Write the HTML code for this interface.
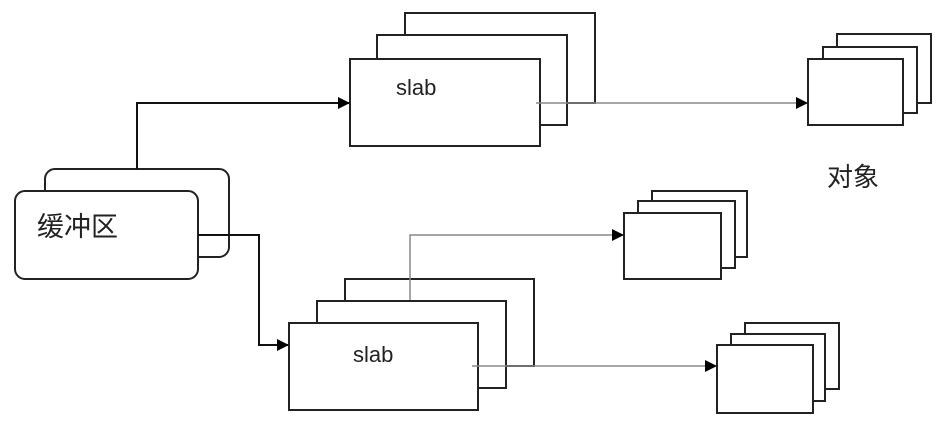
<!DOCTYPE html>
<html><head><meta charset="utf-8"><style>
html,body{margin:0;padding:0;background:#fff;}
svg{display:block}
text{font-family:"Liberation Sans","Noto Sans CJK SC",sans-serif;fill:#222}
</style></head><body>
<svg width="952" height="432" viewBox="0 0 952 432" xmlns="http://www.w3.org/2000/svg">
<defs>
<marker id="a" markerWidth="12" markerHeight="12" refX="11" refY="6" orient="auto" markerUnits="userSpaceOnUse">
<path d="M0,0 L12,6 L0,12 z" fill="#000"/></marker>
</defs>
<g fill="#fff" stroke="#222" stroke-width="2">
<!-- top slab stack -->
<rect x="405" y="13" width="190" height="90"/>
<rect x="377" y="35" width="190" height="90"/>
<rect x="350" y="59" width="190" height="87"/>
<!-- bottom slab stack -->
<rect x="345" y="279" width="189" height="87"/>
<rect x="317" y="301" width="189" height="87"/>
<rect x="289" y="323" width="189" height="87"/>
<!-- buffer -->
<rect x="45" y="169" width="184" height="88" rx="10"/>
<rect x="15" y="191" width="183" height="88" rx="10"/>
<!-- object stacks -->
<rect x="837" y="34" width="94" height="69"/>
<rect x="823" y="47" width="94" height="66"/>
<rect x="808" y="59" width="95" height="66"/>
<rect x="652" y="191" width="95" height="66"/>
<rect x="638" y="201" width="97" height="67"/>
<rect x="624" y="213" width="97" height="66"/>
<rect x="745" y="323" width="94" height="66"/>
<rect x="731" y="334" width="94" height="67"/>
<rect x="717" y="345" width="96" height="68"/>
</g>
<g fill="none">
<polyline points="137,169 137,103 349,103" stroke="#111" stroke-width="2" marker-end="url(#a)"/>
<polyline points="198,235 259,235 259,345 288,345" stroke="#111" stroke-width="2" marker-end="url(#a)"/>
<polyline points="536,103 807,103" stroke="#888" stroke-width="1.5" marker-end="url(#a)"/>
<polyline points="410,300 410,235 623,235" stroke="#888" stroke-width="1.5" marker-end="url(#a)"/>
<polyline points="472,366 716,366" stroke="#888" stroke-width="1.5" marker-end="url(#a)"/>
</g>
<text x="396" y="95" font-size="22">slab</text>
<text x="353" y="362" font-size="22">slab</text>
<text x="37" y="236" font-size="27">缓冲区</text>
<text x="827" y="186" font-size="26">对象</text>
</svg>
</body></html>
